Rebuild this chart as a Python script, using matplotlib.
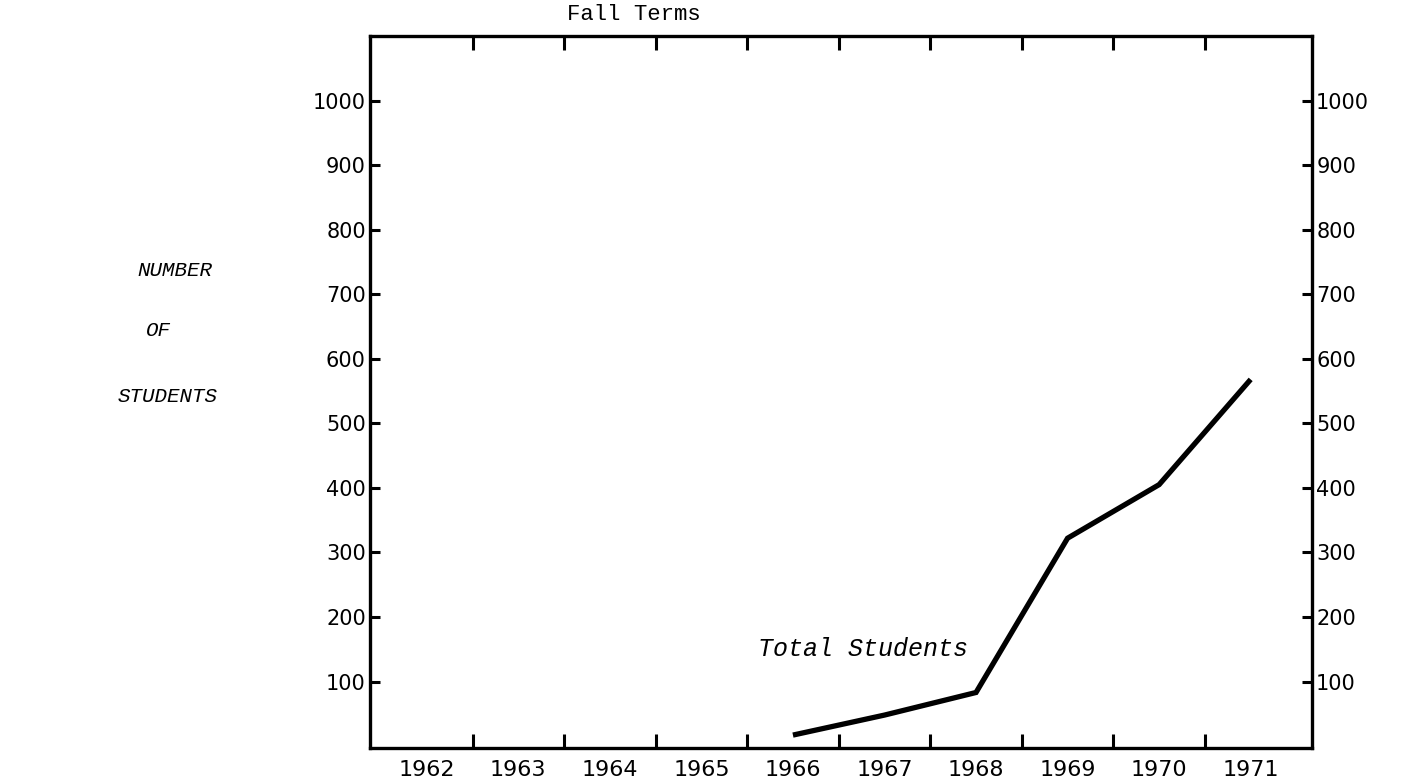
import matplotlib.pyplot as plt

# fall terms shown on the x axis
years = [1962, 1963, 1964, 1965, 1966, 1967, 1968, 1969, 1970, 1971]
# total students per fall term
line_years = [1966, 1967, 1968, 1969, 1970, 1971]
students = [17, 48, 83, 322, 405, 568]
y_ticks = [100, 200, 300, 400, 500, 600, 700, 800, 900, 1000]

W, H = 1428, 782
fig = plt.figure(figsize=(W / 100, H / 100), dpi=100)
ax = fig.add_axes([370 / W, 34 / H, 942 / W, 712 / H])

ax.plot(line_years, students, color="black", lw=3.8,
        solid_capstyle="butt", solid_joinstyle="miter")

ax.set_xlim(1961.38, 1971.67)
ax.set_ylim(-3, 1100)

# tick marks sit between the years, labels on the years
ax.set_xticks([y + 0.5 for y in years[:-1]])
ax.set_xticklabels([])
ax.set_xticks(years, minor=True)
ax.set_xticklabels([str(y) for y in years], minor=True)
ax.tick_params(axis="x", which="major", direction="in", length=10, width=2.2,
               top=True, bottom=True)
ax.tick_params(axis="x", which="minor", length=0, labelsize=16, pad=9)

ax.set_yticks(y_ticks)
ax.set_yticklabels([str(v) for v in y_ticks])
ax.tick_params(axis="y", direction="in", length=7, width=2.2,
               left=True, right=True, labelleft=True, labelright=True,
               labelsize=15, pad=3)

for s in ax.spines.values():
    s.set_linewidth(2.4)

mono = "Liberation Mono"
fig.text(634 / W, 1 - 14 / H, "Fall Terms", ha="center", va="center",
         fontsize=16, family=mono)
ax.text(1966.76, 150, "Total Students", ha="center", va="center",
        fontsize=18, family=mono, style="italic")

for label, (x, y) in zip(["NUMBER", "OF", "STUDENTS"],
                         [(175, 270), (158, 330), (168, 397)]):
    fig.text(x / W, 1 - y / H, label, ha="center", va="center",
             fontsize=15, family=mono, style="italic")

fig.savefig("out.png", dpi=100)
